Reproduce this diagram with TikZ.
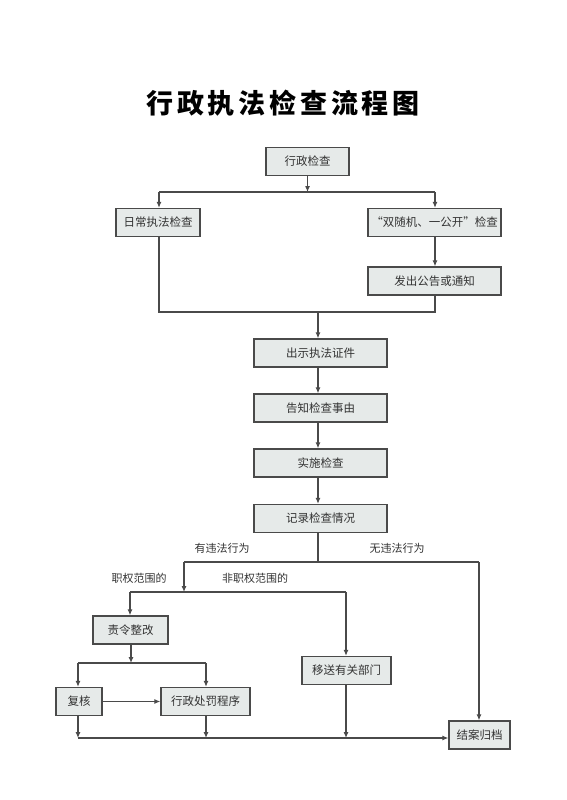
\documentclass[tikz,border=0pt]{standalone}
\usepackage{fontspec}
\setmainfont{Noto Sans CJK SC}
\newfontfamily\titlefont[LetterSpace=14]{Noto Sans CJK SC}
\usetikzlibrary{arrows.meta}
\definecolor{boxfill}{HTML}{E6EAE9}
\definecolor{linec}{HTML}{4A4A4A}
\tikzset{
  box/.style={draw=linec, line width=1.3pt, fill=boxfill, inner sep=0pt,
    minimum height=28pt, font=\fontsize{11.5}{12}\selectfont, text=black!80},
  conn/.style={draw=linec, line width=1.1pt},
  arr/.style={conn, -{Latex[length=6pt,width=5pt]}},
  lbl/.style={font=\fontsize{11}{12}\selectfont, text=black!80, inner sep=0pt}
}
\begin{document}
\begin{tikzpicture}[x=1pt,y=-1pt]
\useasboundingbox[fill=white] (0,0) rectangle (566,800);
\node[font=\titlefont\bfseries\fontsize{27}{30}\selectfont, inner sep=0pt] (title) at (283,103) {行政执法检查流程图};

\node[box, minimum width=83pt] (n1) at (307.5,161.5) {行政检查};
\node[box, minimum width=84pt] (n2) at (158,222.5) {日常执法检查};
\node[box, minimum width=133pt] (n3) at (434.5,222.5) {“双随机、一公开”检查};
\node[box, minimum width=133pt] (n4) at (434.5,281) {发出公告或通知};
\node[box, minimum width=133pt] (n5) at (320.5,353) {出示执法证件};
\node[box, minimum width=133pt] (n6) at (320.5,408) {告知检查事由};
\node[box, minimum width=133pt] (n7) at (320.5,463) {实施检查};
\node[box, minimum width=133pt] (n8) at (320.5,518.5) {记录检查情况};
\node[box, minimum width=75pt] (n9) at (130.5,630) {责令整改};
\node[box, minimum width=89pt] (n10) at (346.5,670.5) {移送有关部门};
\node[box, minimum width=61pt] (n11) at (479.5,735) {结案归档};
\node[box, minimum width=46pt] (n12) at (79,701.5) {复核};
\node[box, minimum width=89pt] (n13) at (205.5,701.5) {行政处罚程序};

% top split
\coordinate (s1) at (307.5,192);
\draw[arr] (n1.south) -- (s1);
\draw[conn] (159,192) -- (435,192);
\draw[arr] (159,192) -- (n2.north -| 159,0);
\draw[arr] (435,192) -- (n3.north -| 435,0);
\draw[arr] (n3.south -| 435,0) -- (n4.north -| 435,0);
% merge
\coordinate (m1) at (318,312);
\draw[conn] (n2.south -| 159,0) -- (159,312) -- (435,312) -- (n4.south -| 435,0);
\draw[arr] (m1) -- (n5.north -| m1);
\draw[arr] (n5.south -| m1) -- (n6.north -| m1);
\draw[arr] (n6.south -| m1) -- (n7.north -| m1);
\draw[arr] (n7.south -| m1) -- (n8.north -| m1);
% violation split
\coordinate (v1) at (318,562);
\draw[conn] (n8.south -| v1) -- (v1);
\draw[conn] (184,562) -- (479,562);
\draw[arr] (479,562) -- (n11.north -| 479,0);
\coordinate (v2) at (184,592);
\draw[arr] (184,562) -- (v2);
\draw[conn] (130,592) -- (346,592);
\draw[arr] (130,592) -- (n9.north -| 130,0);
\draw[arr] (346,592) -- (n10.north -| 346,0);
\node[lbl] (l1) at (222,548) {有违法行为};
\node[lbl] (l2) at (397,548) {无违法行为};
\node[lbl] (l3) at (139,578) {职权范围的};
\node[lbl] (l4) at (255,578) {非职权范围的};
% rectification split
\coordinate (r1) at (131,663);
\draw[arr] (n9.south -| r1) -- (r1);
\draw[conn] (78,663) -- (206,663);
\draw[arr] (78,663) -- (n12.north -| 78,0);
\draw[arr] (206,663) -- (n13.north -| 206,0);
\draw[arr] (n12.east) -- (n13.west);
% bottom merge
\coordinate (b1) at (78,738);
\draw[arr] (b1) -- (n11.west |- b1);
\draw[arr] (n12.south -| b1) -- (b1);
\draw[arr] (n13.south -| 206,0) -- (206,738);
\draw[arr] (n10.south -| 346,0) -- (346,738);
\end{tikzpicture}
\end{document}
